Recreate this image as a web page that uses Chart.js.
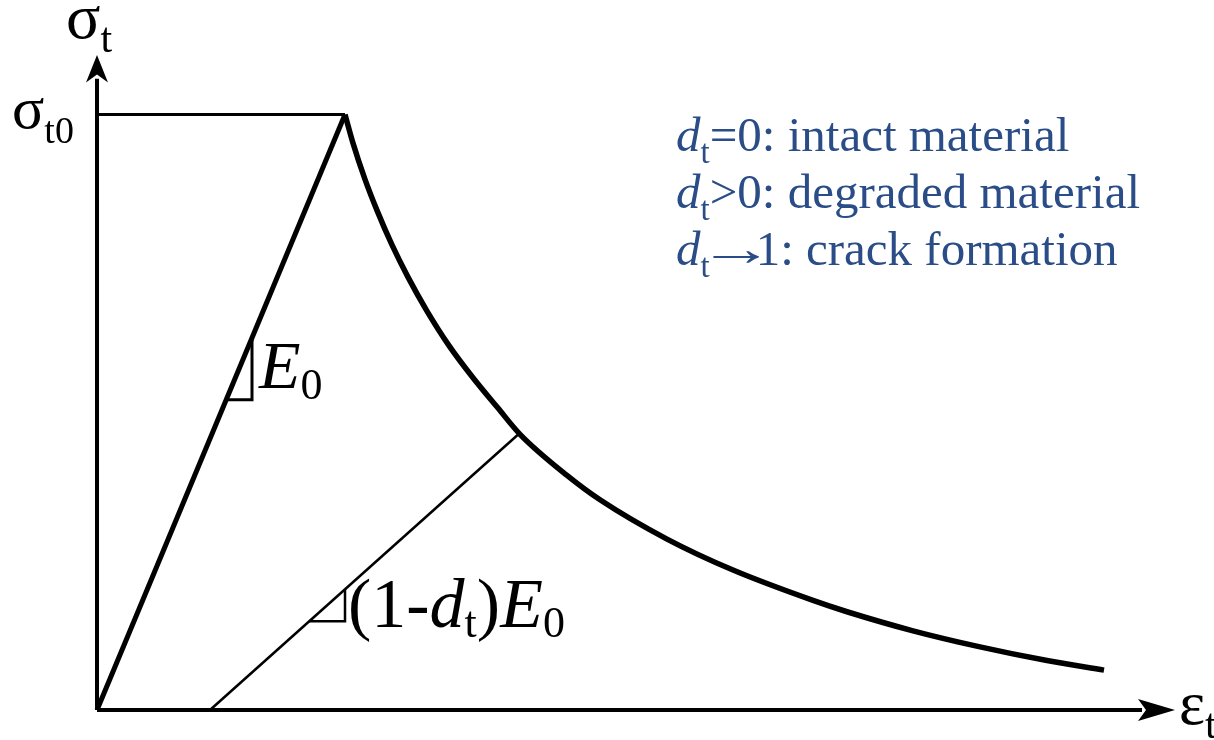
<!DOCTYPE html>
<html>
<head>
<meta charset="utf-8">
<script src="https://cdn.jsdelivr.net/npm/chart.js@4.4.1/dist/chart.umd.min.js"></script>
<style>
  html, body { margin: 0; padding: 0; background: #fff; }
  #wrap { width: 1214px; height: 740px; }
</style>
</head>
<body>
<div id="wrap"><canvas id="damageChart" width="1214" height="740"></canvas></div>
<script>
// strain axis runs 0..10.78, stress normalised by sigma_t0 (peak = 1)
const strainMax = 10.78;
const stressMax = 1.1;

// linear elastic branch up to the peak
const riseStrain = [0, 2.48];
const riseStress = [0, 1.0];

// softening branch after the peak
const softStrain = [2.48, 2.56, 2.68, 2.80, 2.95, 3.11, 3.30, 3.52, 3.76, 4.01, 4.23, 4.70, 5.03, 5.70, 6.36, 7.16, 7.50, 8.16, 8.83, 9.50, 10.07];
const softStress = [1.0, 0.952, 0.891, 0.839, 0.781, 0.727, 0.670, 0.612, 0.558, 0.507, 0.463, 0.394, 0.353, 0.287, 0.235, 0.184, 0.165, 0.133, 0.106, 0.083, 0.067];

// unloading with degraded stiffness
const unloadStrain = [1.13, 4.22];
const unloadStress = [0, 0.464];

// sigma_t0 level marker
const peakLineStrain = [0, 2.48];
const peakLineStress = [1.0, 1.0];

// slope triangles
const e0TriStrain = [1.292, 1.55, 1.55];
const e0TriStress = [0.521, 0.521, 0.625];
const dTriStrain = [2.12, 2.48, 2.48];
const dTriStress = [0.149, 0.149, 0.203];

// axes (line part, arrow heads drawn by plugin)
const xAxisStrain = [0, 10.45];
const xAxisStress = [0, 0];
const yAxisStrain = [0, 0];
const yAxisStress = [0, 1.06];
const xArrow = { base: 10.41, tip: 10.78 };
const yArrow = { base: 1.054, tip: 1.1 };

const pts = (xs, ys) => xs.map((x, i) => ({ x: x, y: ys[i] }));

const lineSet = (xs, ys, width, extra) => Object.assign({
    data: pts(xs, ys),
    showLine: true,
    borderColor: '#000',
    borderWidth: width,
    pointRadius: 0,
    fill: false,
    clip: false,
    tension: 0,
    borderJoinStyle: 'miter',
    borderCapStyle: 'butt'
}, extra || {});

const SERIF = '"Liberation Serif", "Times New Roman", serif';
const BLUE = '#2a4d87';

// draw a run of text pieces: [text, fontSize, italic, baselineOffset, stretchX, shiftX, advance]
const drawRuns = (ctx, x, y, runs, color) => {
    ctx.fillStyle = color;
    ctx.textBaseline = 'alphabetic';
    ctx.textAlign = 'left';
    let cx = x;
    runs.forEach(([txt, size, italic, dy, stretch, shift, advance]) => {
        const sx = stretch || 1;
        ctx.font = (italic ? 'italic ' : '') + size + 'px ' + SERIF;
        ctx.save();
        ctx.translate(cx + (shift || 0), y + (dy || 0));
        ctx.scale(sx, 1);
        ctx.fillText(txt, 0, 0);
        ctx.restore();
        cx += advance || ctx.measureText(txt).width * sx;
    });
};

const arrowHead = (ctx, tipX, tipY, baseX, baseY) => {
    const ang = Math.atan2(tipY - baseY, tipX - baseX);
    const len = Math.hypot(tipX - baseX, tipY - baseY);
    const half = 11;
    ctx.save();
    ctx.translate(tipX, tipY);
    ctx.rotate(ang);
    ctx.beginPath();
    ctx.moveTo(0, 0);
    ctx.lineTo(-len, -half);
    ctx.lineTo(-len + 8, 0);
    ctx.lineTo(-len, half);
    ctx.closePath();
    ctx.fillStyle = '#000';
    ctx.fill();
    ctx.restore();
};

const annotations = {
    id: 'annotations',
    afterDatasetsDraw(chart) {
        const ctx = chart.ctx;
        const xs = chart.scales.x;
        const ys = chart.scales.y;
        const px = v => xs.getPixelForValue(v);
        const py = v => ys.getPixelForValue(v);

        arrowHead(ctx, px(xArrow.tip), py(0), px(xArrow.base), py(0));
        arrowHead(ctx, px(0), py(yArrow.tip), px(0), py(yArrow.base));

        // axis titles
        drawRuns(ctx, 66, 38, [['σ', 64, false], ['t', 42, false, 14]], '#000');
        drawRuns(ctx, px(xArrow.tip) + 4, py(0) + 14, [['ε', 62, false], ['t', 42, false, 14]], '#000');
        drawRuns(ctx, 12, py(1.0) + 13, [['σ', 60, false], ['t0', 38, false, 15]], '#000');

        // slope labels
        drawRuns(ctx, px(1.55) + 7, py(0.52) - 12, [['E', 68, true], ['0', 44, false, 11]], '#000');
        drawRuns(ctx, px(2.48) + 3, py(0.149) + 6, [
            ['(1-', 70, false], ['d', 70, true], ['t', 44, false, 10],
            [')', 70, false], ['E', 70, true], ['0', 44, false, 10]
        ], '#000');

        // damage variable legend
        const lx = 676;
        drawRuns(ctx, lx, 151, [['d', 49, true], ['t', 33, false, 12], ['=0: intact material', 49, false]], BLUE);
        drawRuns(ctx, lx, 208, [['d', 49, true], ['t', 33, false, 12], ['>0: degraded material', 49, false]], BLUE);
        drawRuns(ctx, lx, 265, [['d', 49, true], ['t', 33, false, 12], ['→', 49, false, 0, 1.57, -12, 46], ['1: crack formation', 49, false]], BLUE);
    }
};

new Chart(document.getElementById('damageChart'), {
    type: 'scatter',
    data: {
        datasets: [
            lineSet(xAxisStrain, xAxisStress, 4),
            lineSet(yAxisStrain, yAxisStress, 4),
            lineSet(peakLineStrain, peakLineStress, 3),
            lineSet(unloadStrain, unloadStress, 2.5),
            lineSet(e0TriStrain, e0TriStress, 3),
            lineSet(dTriStrain, dTriStress, 2.5),
            lineSet(riseStrain, riseStress, 5),
            lineSet(softStrain, softStress, 5.5, { cubicInterpolationMode: 'monotone' })
        ]
    },
    options: {
        responsive: false,
        animation: false,
        events: [],
        layout: { padding: { left: 97, right: 1214 - 97 - 1078, top: 55, bottom: 30 } },
        scales: {
            x: { type: 'linear', min: 0, max: strainMax, display: false },
            y: { type: 'linear', min: 0, max: stressMax, display: false }
        },
        plugins: {
            legend: { display: false },
            tooltip: { enabled: false }
        }
    },
    plugins: [annotations]
});
</script>
</body>
</html>
